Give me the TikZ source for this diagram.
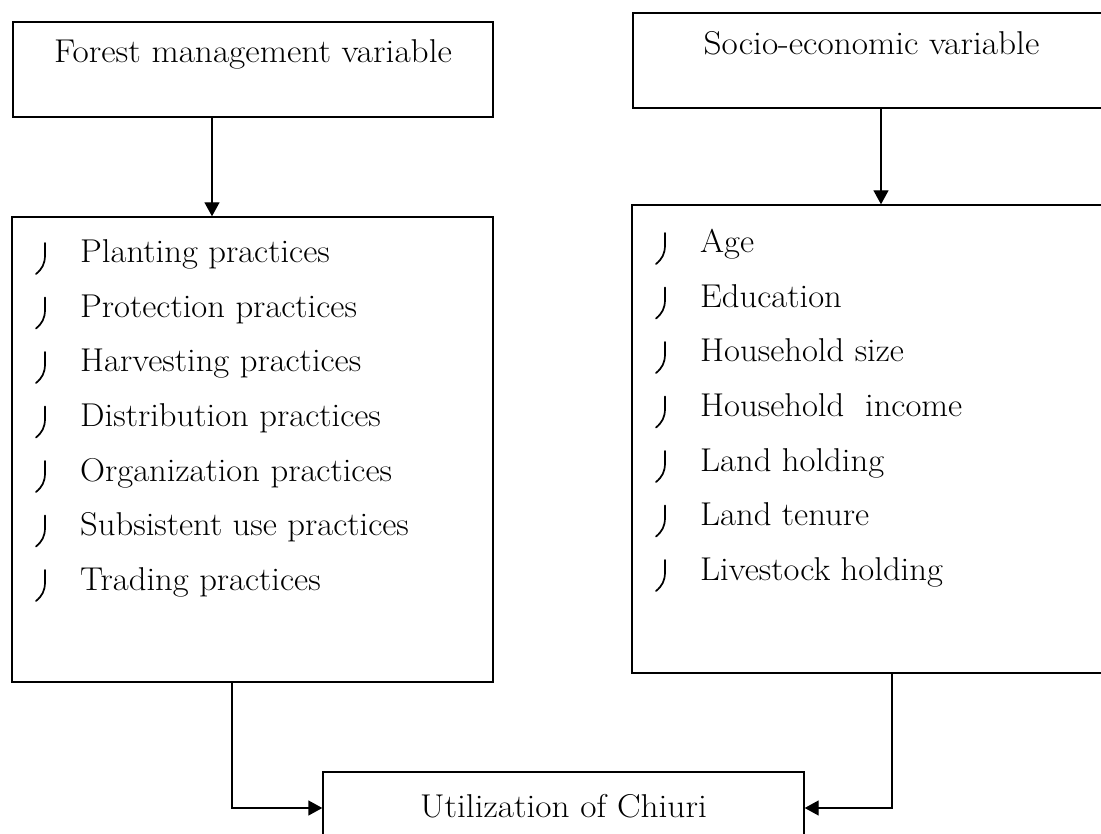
\documentclass[tikz,border=0pt]{standalone}
\usepackage{fontspec}
\usetikzlibrary{arrows.meta}
\newcommand{\wide}[1]{\scalebox{1.07}[1]{#1}}
\newcommand{\wider}[1]{\scalebox{1.05}[1]{#1}}
\tikzset{
  box/.style={draw, line width=1.4pt, rectangle, inner sep=0pt},
  txt/.style={inner sep=0pt, anchor=base, font=\fontsize{33}{38}\selectfont},
  item/.style={inner sep=0pt, anchor=base west, font=\fontsize{33}{38}\selectfont},
  arr/.style={line width=1.4pt, -{Triangle[length=14pt,width=15pt]}},
  bul/.pic={\draw[line width=1.7pt, line cap=round] (0,-20) -- (0,-8) .. controls (0,1) and (-3,6) .. (-9,11);}
}
\begin{document}
\begin{tikzpicture}[x=1pt,y=-1pt]
\useasboundingbox (0,0) rectangle (1101,834);
% boxes
\node[box, minimum width=480pt, minimum height=95pt] (fm) at (253,69.5) {};
\node[box, minimum width=481pt, minimum height=465pt] (fl) at (252.5,449.5) {};
\node[box, minimum width=477pt, minimum height=95pt] (se) at (871.5,60.5) {};
\node[box, minimum width=500pt, minimum height=468pt] (sl) at (882,439) {};
\node[box, minimum width=481pt, minimum height=72pt] (ut) at (563.5,808) {};
% titles
\node[txt] (fmt) at (253,63) {\wide{Forest management variable}};
\node[txt] (set) at (871.5,55) {\wide{Socio-economic variable}};
\node[txt] (utt) at (563.5,817) {\wide{Utilization of Chiuri}};
% left list
\foreach \t [count=\i from 0] in {Planting practices, Protection practices, Harvesting practices, Distribution practices, Organization practices, Subsistent use practices, Trading practices}{
  \pgfmathsetmacro{\b}{263+54.5*\i}
  \node[item] (l\i) at (80,\b) {\wider{\t}};
  \pic at (45,\b) {bul};
}
% right list
\foreach \t [count=\i from 0] in {Age, Education, Household size, Household\hspace{0.6em}income, Land holding, Land tenure, Livestock holding}{
  \pgfmathsetmacro{\b}{253+54.5*\i}
  \node[item] (r\i) at (700,\b) {\wider{\t}};
  \pic at (665,\b) {bul};
}
% connectors
\draw[arr] (fm.south -| 212,0) -- (fl.north -| 212,0);
\draw[arr] (se.south -| 881,0) -- (sl.north -| 881,0);
\draw[arr] (fl.south -| 232,0) |- (ut.west);
\draw[arr] (sl.south -| 892,0) |- (ut.east);
\end{tikzpicture}
\end{document}
